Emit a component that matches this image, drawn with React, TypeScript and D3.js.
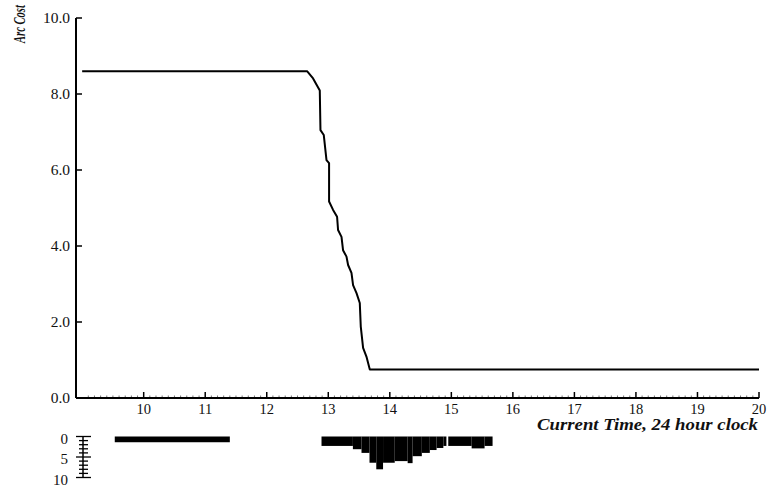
import React from "react";
import * as d3 from "d3";

// Arc cost curve (time in hours, cost)
const curveTimes = [9.0, 12.655, 12.753, 12.862, 12.873, 12.927, 12.971, 13.013, 13.013, 13.078, 13.143, 13.159, 13.215, 13.24, 13.296, 13.322, 13.377, 13.403, 13.459, 13.512, 13.528, 13.566, 13.62, 13.675, 20];
const curveValues = [8.6, 8.6, 8.41, 8.09, 7.05, 6.92, 6.26, 6.18, 5.17, 4.95, 4.77, 4.42, 4.24, 3.89, 3.72, 3.5, 3.29, 2.97, 2.76, 2.5, 1.88, 1.32, 1.09, 0.75, 0.75];

// Bottom histogram (count of observations)
const histStarts = [9.53, 12.89, 13.40, 13.54, 13.67, 13.78, 13.89, 14.08, 14.29, 14.37, 14.52, 14.65, 14.76, 14.87, 14.95, 15.33, 15.54];
const histEnds = [11.40, 13.40, 13.54, 13.67, 13.78, 13.89, 14.08, 14.29, 14.37, 14.52, 14.65, 14.76, 14.87, 14.92, 15.33, 15.54, 15.67];
const histCounts = [1.4, 2.3, 3.1, 4.0, 6.4, 8.0, 6.4, 6.0, 6.5, 4.8, 4.0, 3.3, 2.8, 2.3, 2.3, 2.9, 2.3];

const xTicks = [10, 11, 12, 13, 14, 15, 16, 17, 18, 19, 20];
const yTicks = [0, 2, 4, 6, 8, 10];
const rulerTicks = [0, 1, 2, 3, 4, 5, 6, 7, 8, 9, 10];
const rulerLabels = [0, 5, 10];

const W = 769;
const H = 489;
const FONT = '"Liberation Serif", "Times New Roman", Times, serif';

export default function App() {
  const x = d3.scaleLinear().domain([8.9, 20]).range([76, 759]);
  const y = d3.scaleLinear().domain([0, 10]).range([398, 18]);
  const h = d3.scaleLinear().domain([0, 10]).range([436.5, 477.5]);

  const pts: [number, number][] = curveTimes.map((t, i) => [t, curveValues[i]]);
  const line = d3
    .line<[number, number]>()
    .x((d) => x(d[0]))
    .y((d) => y(d[1]))
    .curve(d3.curveLinear);

  const minorTicks = d3.range(9.0, 20.0001, 0.1).filter((t) => Math.abs(t - Math.round(t)) > 0.01);
  const txt = { fontFamily: FONT } as React.CSSProperties;

  return (
    <svg width={W} height={H} style={{ position: "absolute", left: 0, top: 0, background: "#fff", fontFamily: FONT }}>
      <rect x={0} y={0} width={W} height={H} fill="#fff" />
      {/* Y axis */}
      <line x1={x(8.9)} x2={x(8.9)} y1={y(10)} y2={y(0)} stroke="#000" strokeWidth={2} />
      {yTicks.map((v) => (
        <g key={"yt" + v}>
          <line x1={x(8.9)} x2={x(8.9) + 6} y1={y(v)} y2={y(v)} stroke="#000" strokeWidth={1.5} />
          <text x={70} y={y(v)} dy="0.35em" textAnchor="end" fontSize={15.5} fill="#111" style={txt}>
            {v.toFixed(1)}
          </text>
        </g>
      ))}
      <text
        transform={`translate(25, 24) rotate(-90) scale(0.66, 1)`}
        textAnchor="middle"
        fontSize={16}
        fontWeight="bold"
        fontStyle="italic"
        fill="#111"
        style={txt}
      >
        Arc Cost
      </text>

      {/* X axis */}
      <line x1={x(8.9)} x2={x(20)} y1={y(0)} y2={y(0)} stroke="#000" strokeWidth={2} />
      {minorTicks.map((t, i) => (
        <line key={"mt" + i} x1={x(t)} x2={x(t)} y1={y(0) - 1} y2={y(0) - 2.5} stroke="#777" strokeWidth={1} />
      ))}
      {xTicks.map((t) => (
        <g key={"xt" + t}>
          <line x1={x(t)} x2={x(t)} y1={y(0)} y2={y(0) - 6} stroke="#000" strokeWidth={1.5} />
          <text x={x(t)} y={414} textAnchor="middle" fontSize={14.5} fill="#111" style={txt}>
            {t}
          </text>
        </g>
      ))}
      <text
        x={758}
        y={430}
        textAnchor="end"
        fontSize={16}
        fontWeight="bold"
        fontStyle="italic"
        textLength={221}
        lengthAdjust="spacingAndGlyphs"
        fill="#111"
        style={txt}
      >
        Current Time, 24 hour clock
      </text>

      {/* Arc cost curve */}
      <path d={line(pts) || ""} fill="none" stroke="#000" strokeWidth={2} strokeLinejoin="round" />

      {/* Histogram ruler */}
      <line x1={83} x2={83} y1={h(0)} y2={h(10)} stroke="#000" strokeWidth={1.5} />
      {rulerTicks.map((c) => (
        <line
          key={"rt" + c}
          x1={c % 5 === 0 ? 76 : 79}
          x2={c % 5 === 0 ? 91 : 88}
          y1={h(c)}
          y2={h(c)}
          stroke="#000"
          strokeWidth={1.3}
        />
      ))}
      {rulerLabels.map((c) => (
        <text key={"rl" + c} x={68} y={h(c) + 2} dy="0.35em" textAnchor="end" fontSize={15} fill="#111" style={txt}>
          {c}
        </text>
      ))}

      {/* Histogram bars */}
      {histStarts.map((s, i) => (
        <rect
          key={"hb" + i}
          x={x(s)}
          y={h(0)}
          width={x(histEnds[i]) - x(s)}
          height={h(histCounts[i]) - h(0)}
          fill="#000"
        />
      ))}
    </svg>
  );
}
